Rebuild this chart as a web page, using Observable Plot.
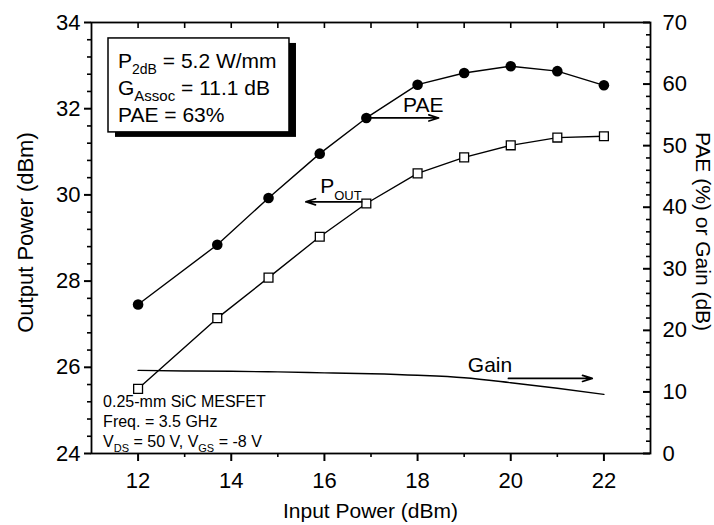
<!DOCTYPE html>
<html>
<head>
<meta charset="utf-8">
<script src="https://cdn.jsdelivr.net/npm/d3@7"></script>
<script src="https://cdn.jsdelivr.net/npm/@observablehq/plot@0.6"></script>
<style>
  html, body { margin: 0; padding: 0; background: #fff; }
  svg { display: block; }
</style>
</head>
<body>
<div id="chart"></div>
<script>
// ---------- data ----------
const inputPower = [12, 13.7, 14.8, 15.9, 16.9, 18, 19, 20, 21, 22];          // dBm
const outputPower = [25.5, 27.14, 28.08, 29.03, 29.8, 30.5, 30.87, 31.15, 31.33, 31.36]; // dBm (left axis)
const paeValues = [24.2, 33.9, 41.5, 48.7, 54.5, 59.9, 61.8, 62.9, 62.1, 59.8];  // % (right axis)
const gainInput = [12, 13, 14, 15, 16, 17, 18, 19, 20, 21, 22];                  // dBm
const gainValues = [13.5, 13.4, 13.35, 13.25, 13.1, 12.95, 12.7, 12.3, 11.5, 10.6, 9.6]; // dB (right axis)

// axis ticks
const xMajorTicks = [12, 14, 16, 18, 20, 22];
const xMinorTicks = [13, 15, 17, 19, 21];
const xTopTicks = [12, 13, 14, 15, 16, 17, 18, 19, 20, 21, 22];
const leftMajorTicks = [24, 26, 28, 30, 32, 34];
const rightMajorTicks = [0, 10, 20, 30, 40, 50, 60, 70];

// annotations (data coordinates)
const paeArrow = {x1: 16.95, x2: 18.45, v: 54.5};     // right-axis units
const poutArrow = {x1: 16.8, x2: 15.6, y: 29.84};     // left-axis units
const gainArrow = {x1: 19.95, x2: 21.75, v: 12.2};    // right-axis units
const infoBox = {x1: 11.365, x2: 15.25, y1: 31.45, y2: 33.63};

// right axis (0..70) mapped onto the left axis (24..34)
const toLeft = v => 24 + v / 7;
const fromLeft = y => (y - 24) * 7;

const leftMinorTicks = d3.range(0, 26).map(k => 24 + 0.4 * k).filter((d, k) => k % 5 !== 0);
const rightMinorTicks = d3.range(0, 36).map(k => 2 * k).filter(v => v % 10 !== 0).map(toLeft);

const poutData = inputPower.map((x, i) => ({x, y: outputPower[i]}));
const paeData = inputPower.map((x, i) => ({x, y: toLeft(paeValues[i])}));
const gainData = gainInput.map((x, i) => ({x, y: toLeft(gainValues[i])}));

const FONT = "'Liberation Sans', Arial, Helvetica, sans-serif";
const W = 714, H = 525, ML = 91, MR = 64, MT = 22, MB = 72;
const FW = W - ML - MR, FH = H - MT - MB;   // frame size in px

// short tick helpers (tick length in px)
const bottomTicks = (d, len, w) => Plot.tickX(d, {x: v => v, insetTop: FH - len, dy: len, stroke: "black", strokeWidth: w});
const topTicks = (d, len, w) => Plot.tickX(d, {x: v => v, insetBottom: FH - len, stroke: "black", strokeWidth: w});
const leftTicks = (d, len, w) => Plot.tickY(d, {y: v => v, insetRight: FW - len, dx: -len, stroke: "black", strokeWidth: w});
const rightTicks = (d, len, w) => Plot.tickY(d, {y: v => v, insetLeft: FW - len, stroke: "black", strokeWidth: w});

const chart = Plot.plot({
  width: W,
  height: H,
  marginLeft: ML,
  marginRight: MR,
  marginTop: MT,
  marginBottom: MB,
  style: {fontFamily: FONT, background: "white", color: "black", overflow: "visible"},
  x: {domain: [11, 23], label: null},
  y: {domain: [24, 34], label: null},
  marks: [
    // tick labels
    Plot.axisX(xMajorTicks, {anchor: "bottom", tickSize: 0, tickPadding: 19, fontSize: 22, label: null}),
    Plot.axisY(leftMajorTicks, {anchor: "left", tickSize: 0, tickPadding: 11, fontSize: 22, label: null}),
    Plot.axisY(rightMajorTicks.map(toLeft), {anchor: "right", tickSize: 0, tickPadding: 12, fontSize: 22, label: null,
      tickFormat: d => String(Math.round(fromLeft(d)))}),
    // tick marks
    bottomTicks(xMajorTicks, 8, 2),
    bottomTicks(xMinorTicks, 4, 1.6),
    topTicks(xTopTicks, 6, 1.6),
    leftTicks(leftMajorTicks, 7, 2),
    leftTicks(leftMinorTicks, 4, 1.6),
    rightTicks(rightMajorTicks.map(toLeft), 7, 2),
    rightTicks(rightMinorTicks, 4, 1.6),
    Plot.frame({stroke: "black", strokeWidth: 1.8}),

    // info box with shadow
    Plot.rect([infoBox], {x1: "x1", x2: "x2", y1: "y1", y2: "y2", fill: "black", dx: 7, dy: 5}),
    Plot.rect([infoBox], {x1: "x1", x2: "x2", y1: "y1", y2: "y2", fill: "white", stroke: "black", strokeWidth: 1.5}),

    // gain
    Plot.line(gainData, {x: "x", y: "y", curve: "monotone-x", stroke: "black", strokeWidth: 1.4}),
    // PAE
    Plot.line(paeData, {x: "x", y: "y", stroke: "black", strokeWidth: 1.4}),
    Plot.dot(paeData, {x: "x", y: "y", r: 5.3, fill: "black", stroke: "none"}),
    // Pout
    Plot.line(poutData, {x: "x", y: "y", stroke: "black", strokeWidth: 1.4}),
    Plot.dot(poutData, {x: "x", y: "y", symbol: "square", r: 5, fill: "white", stroke: "black", strokeWidth: 1.3}),

    // arrows
    Plot.arrow([paeArrow], {x1: "x1", x2: "x2", y1: d => toLeft(d.v), y2: d => toLeft(d.v), stroke: "black", strokeWidth: 1.7, headLength: 9, headAngle: 35}),
    Plot.arrow([poutArrow], {x1: "x1", x2: "x2", y1: "y", y2: "y", stroke: "black", strokeWidth: 1.7, headLength: 9, headAngle: 35}),
    Plot.arrow([gainArrow], {x1: "x1", x2: "x2", y1: d => toLeft(d.v), y2: d => toLeft(d.v), stroke: "black", strokeWidth: 1.7, headLength: 9, headAngle: 35})
  ]
});

document.getElementById("chart").appendChild(chart);

// ---------- text with subscripts, placed through the plot's scales ----------
const sx = chart.scale("x"), sy = chart.scale("y");
const X = v => (sx.apply ? sx.apply(v) : d3.scaleLinear(sx.domain, sx.range)(v));
const Y = v => (sy.apply ? sy.apply(v) : d3.scaleLinear(sy.domain, sy.range)(v));

const svg = d3.select(chart);
const layer = svg.append("g").attr("font-family", FONT).attr("fill", "black");

function addText(px, py, parts, size, subSize, subShift, opts = {}) {
  const t = layer.append("text")
    .attr("x", px).attr("y", py)
    .attr("font-size", size)
    .attr("text-anchor", opts.anchor || "start");
  if (opts.rotate) t.attr("transform", `rotate(${opts.rotate},${px},${py})`);
  let shifted = false;
  for (const p of parts) {
    const isSub = Array.isArray(p);
    const s = t.append("tspan").text(isSub ? p[0] : p);
    if (isSub) { s.attr("font-size", subSize).attr("dy", subShift); shifted = true; }
    else if (shifted) { s.attr("dy", -subShift); shifted = false; }
  }
  return t;
}

// info box
addText(X(11.58), Y(32.93), ["P", ["2dB"], " = 5.2 W/mm"], 21, 14, 6);
addText(X(11.58), Y(32.31), ["G", ["Assoc"], " = 11.1 dB"], 21, 15, 6);
addText(X(11.58), Y(31.68), ["PAE = 63%"], 21, 14, 6);

// device notes
addText(X(11.26), Y(25.07), ["0.25-mm SiC MESFET"], 16, 11, 5);
addText(X(11.26), Y(24.60), ["Freq. = 3.5 GHz"], 16, 11, 5);
addText(X(11.26), Y(24.14), ["V", ["DS"], " = 50 V, V", ["GS"], " = -8 V"], 16, 11, 5);

// curve labels
addText(X(17.70), Y(31.91), ["PAE"], 21, 13, 7);
addText(X(15.92), Y(30.03), ["P", ["OUT"]], 21, 13, 7);
addText(X(19.09), Y(25.88), ["Gain"], 21, 13, 7);

// axis titles
const [fx0, fx1] = sx.range, [fy0, fy1] = sy.range;
addText((fx0 + fx1) / 2, 518, ["Input Power (dBm)"], 21, 14, 0, {anchor: "middle"});
addText(33, (fy0 + fy1) / 2 - 5, ["Output Power (dBm)"], 22, 14, 0, {anchor: "middle", rotate: -90});
addText(696, (fy0 + fy1) / 2 - 6, ["PAE (%) or Gain (dB)"], 21, 14, 0, {anchor: "middle", rotate: 90});
</script>
</body>
</html>
